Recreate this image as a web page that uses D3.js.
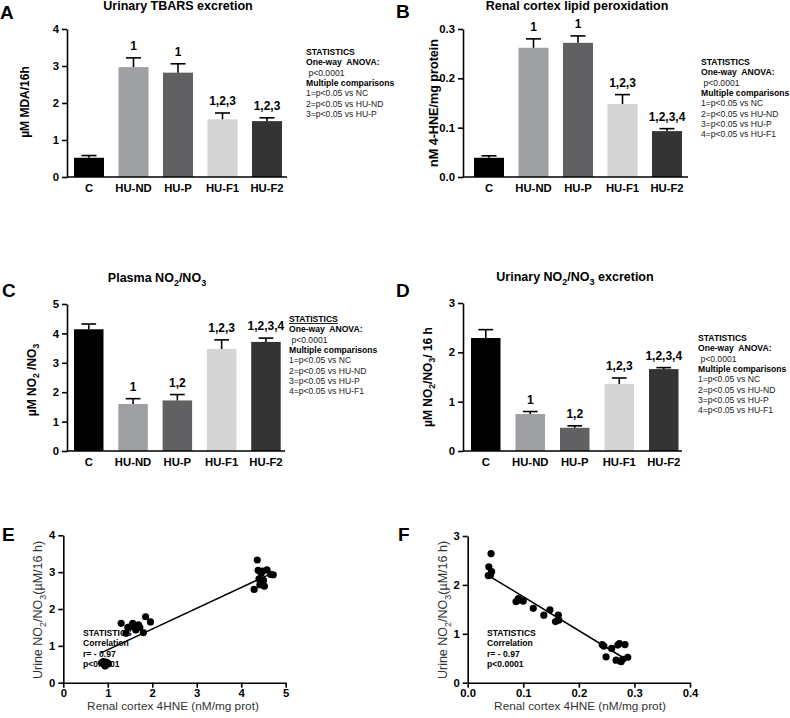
<!DOCTYPE html>
<html><head><meta charset="utf-8">
<script src="https://cdn.jsdelivr.net/npm/d3@7"></script>
<style>body{margin:0;background:#fff} svg{font-family:Arial,"Liberation Sans",Helvetica,sans-serif}</style>
</head><body><svg id="c" width="790" height="718"></svg>
<script>
// ---------- DATA ----------
const categories = ["C","HU-ND","HU-P","HU-F1","HU-F2"];
const barColors = ["#000000","#9fa0a4","#616163","#d5d5d5","#343434"];

const tbarsMean = [0.52,2.97,2.82,1.56,1.51];
const tbarsErr  = [0.58,3.22,3.06,1.73,1.60];
const tbarsSig  = ["","1","1","1,2,3","1,2,3"];
const tbarsTicks = [0,1,2,3,4];

const hneMean = [0.039,0.262,0.272,0.148,0.093];
const hneErr  = [0.043,0.280,0.286,0.167,0.098];
const hneSig  = ["","1","1","1,2,3","1,2,3,4"];
const hneTicks = [0,0.1,0.2,0.3];

const plasmaMean = [4.14,1.60,1.72,3.47,3.71];
const plasmaErr  = [4.32,1.78,1.92,3.78,3.84];
const plasmaSig  = ["","1","1,2","1,2,3","1,2,3,4"];
const plasmaTicks = [0,1,2,3,4,5];

const urineMean = [2.29,0.75,0.47,1.36,1.66];
const urineErr  = [2.46,0.80,0.51,1.48,1.69];
const urineSig  = ["","1","1,2","1,2,3","1,2,3,4"];
const urineTicks = [0,1,2,3];

const stats3 = [["STATISTICS",1],["One-way  ANOVA:",1],[" p<0.0001",0],["Multiple comparisons",1],
  ["1=p<0.05 vs NC",0],["2=p<0.05 vs HU-ND",0],["3=p<0.05 vs HU-P",0]];
const stats4 = stats3.concat([["4=p<0.05 vs HU-F1",0]]);
const corrStats = ["STATISTICS","Correlation","r= - 0.97","p<0.0001"];

// Scatter E: x = renal cortex 4HNE, y = urine NO2/NO3
const scatterEx = [4.36,4.38,4.48,4.58,4.66,4.72,4.40,4.50,4.42,4.52,4.29,4.45,
  1.30,1.41,1.45,1.56,1.63,1.69,1.72,1.85,1.80,1.96,1.52,1.61,
  0.86,0.91,0.96,1.01,0.94,0.99,0.90];
const scatterEy = [3.33,3.05,3.03,3.06,2.94,2.93,2.82,2.78,2.66,2.62,2.53,2.97,
  1.61,1.34,1.50,1.61,1.43,1.57,1.50,1.79,1.36,1.65,1.52,1.52,
  0.54,0.51,0.56,0.51,0.45,0.54,0.57];
const fitE = [[0.85,0.81],[4.6,2.92]];
const scatterETicksX = [0,1,2,3,4,5];
const scatterETicksY = [0,1,2,3,4];

// Scatter F
const scatterFx = [0.042,0.038,0.043,0.037,0.041,
  0.087,0.091,0.094,0.100,0.118,0.137,0.148,0.163,0.158,0.164,
  0.242,0.245,0.259,0.249,0.270,0.273,0.283,0.267,0.276,0.279,0.288];
const scatterFy = [2.64,2.37,2.27,2.19,2.20,
  1.66,1.72,1.69,1.67,1.52,1.38,1.49,1.38,1.25,1.28,
  0.78,0.75,0.70,0.53,0.77,0.80,0.78,0.46,0.43,0.48,0.52];
const fitF = [[0.039,2.18],[0.280,0.51]];
const scatterFTicksX = [0,0.1,0.2,0.3,0.4];
const scatterFTicksY = [0,1,2,3];

// ---------- DRAWING ----------
const svg = d3.select("#c");
const FONT = "Arial, 'Liberation Sans', Helvetica, sans-serif";

function rich(t, parts, size){
  let shifted = false;
  parts.forEach(p => {
    const isSub = typeof p !== "string";
    const ts = t.append("tspan").text(isSub ? p.sub : p);
    if (isSub) { ts.attr("font-size", size*0.72).attr("dy", size*0.28); shifted = true; }
    else if (shifted) { ts.attr("dy", -size*0.28); shifted = false; }
  });
  return t;
}

function text(x, y, str, size, weight, anchor, fill){
  return svg.append("text").attr("x",x).attr("y",y).attr("font-size",size)
    .attr("font-weight",weight||"normal").attr("text-anchor",anchor||"start")
    .attr("fill",fill||"#000").attr("font-family",FONT).text(str);
}

function styleAxis(a, size){
  a.select(".domain").attr("stroke","#000").attr("stroke-width",1.6);
  a.selectAll(".tick line").attr("stroke","#000").attr("stroke-width",1.6);
  a.selectAll(".tick text").attr("font-size",size).attr("font-weight","bold")
    .attr("font-family",FONT).attr("fill","#000");
}

function barPanel(cfg){
  const g = svg.append("g");
  const y = d3.scaleLinear().domain([0, cfg.yMax]).range([cfg.y0, cfg.y1]);
  const x = d3.scaleBand().domain(categories)
    .range([cfg.bar0, cfg.bar0 + 4*cfg.step + cfg.bw])
    .paddingInner(1 - cfg.bw/cfg.step).paddingOuter(0);
  const cx = i => x(categories[i]) + x.bandwidth()/2;
  g.selectAll("rect.bar").data(cfg.mean).join("rect").attr("class","bar")
    .attr("x",(d,i)=>x(categories[i])).attr("y",d=>y(d))
    .attr("width",x.bandwidth()).attr("height",d=>y(0)-y(d))
    .attr("fill",(d,i)=>barColors[i]);
  g.selectAll("line.err").data(cfg.err).join("line").attr("class","err")
    .attr("x1",(d,i)=>cx(i)).attr("x2",(d,i)=>cx(i))
    .attr("y1",(d,i)=>y(cfg.mean[i])).attr("y2",d=>y(d))
    .attr("stroke","#000").attr("stroke-width",1.6);
  g.selectAll("line.cap").data(cfg.err).join("line").attr("class","cap")
    .attr("x1",(d,i)=>cx(i)-x.bandwidth()/4).attr("x2",(d,i)=>cx(i)+x.bandwidth()/4)
    .attr("y1",d=>y(d)).attr("y2",d=>y(d))
    .attr("stroke","#000").attr("stroke-width",1.6);
  g.selectAll("text.sig").data(cfg.sig).join("text").attr("class","sig")
    .attr("x",(d,i)=>cx(i)).attr("y",(d,i)=>y(cfg.err[i]) - 8)
    .attr("text-anchor","middle").attr("font-size",12).attr("font-weight","bold")
    .attr("font-family",FONT).text(d=>d);
  const ya = g.append("g").attr("transform",`translate(${cfg.ax},0)`)
    .call(d3.axisLeft(y).tickValues(cfg.ticks).tickFormat(cfg.fmt).tickSize(5).tickSizeOuter(0).tickPadding(3));
  styleAxis(ya, 11.3);
  g.append("line").attr("x1",cfg.ax).attr("x2",cfg.axEnd).attr("y1",y(0)).attr("y2",y(0))
    .attr("stroke","#000").attr("stroke-width",1.6);
  const xa = g.append("g").attr("transform",`translate(0,${y(0)})`)
    .call(d3.axisBottom(x).tickSize(0).tickPadding(7));
  xa.select(".domain").remove();
  xa.selectAll(".tick text").attr("font-size",11.3).attr("font-weight","bold")
    .attr("font-family",FONT).attr("fill","#000");
  const tt = svg.append("text").attr("x",cfg.titleX).attr("y",cfg.titleY).attr("text-anchor","middle")
    .attr("font-size",12.5).attr("font-weight","bold").attr("font-family",FONT);
  rich(tt, cfg.title, 12.5);
  const yl = svg.append("text").attr("transform",`translate(${cfg.ylX},${cfg.ylY}) rotate(-90)`)
    .attr("text-anchor","middle").attr("font-size",cfg.ylSize).attr("font-weight","bold").attr("font-family",FONT);
  rich(yl, cfg.ylabel, cfg.ylSize);
  text(cfg.letterX, cfg.letterY, cfg.letter, 19, "bold");
  cfg.stats.forEach((s,i)=>{
    const t = text(cfg.stX, cfg.stY + i*10.35, s[0], 8.6, s[1] ? "bold" : "normal", "start", s[1] ? "#000" : "#222");
    t.style("white-space","pre");
    if (i===0 && cfg.underline) t.attr("text-decoration","underline");
  });
}

function fmt1(d){ return d3.format(".1f")(d); }

barPanel({mean:tbarsMean, err:tbarsErr, sig:tbarsSig, ticks:tbarsTicks, fmt:d3.format("d"),
  yMax:4, y0:177, y1:29, ax:67, axEnd:287, bar0:74, step:44.5, bw:30,
  title:["Urinary TBARS excretion"], titleX:178, titleY:10,
  ylabel:["\u00b5M MDA/16h"], ylX:29, ylY:102, ylSize:12,
  letter:"A", letterX:0, letterY:19, stats:stats3, stX:306, stY:55});

barPanel({mean:hneMean, err:hneErr, sig:hneSig, ticks:hneTicks, fmt:fmt1,
  yMax:0.3, y0:177, y1:29, ax:463, axEnd:688, bar0:474, step:44.5, bw:30,
  title:["Renal cortex lipid peroxidation"], titleX:577, titleY:10,
  ylabel:["nM 4-HNE/mg protein"], ylX:438, ylY:103, ylSize:12.6,
  letter:"B", letterX:396, letterY:18, stats:stats4, stX:701, stY:65});

barPanel({mean:plasmaMean, err:plasmaErr, sig:plasmaSig, ticks:plasmaTicks, fmt:d3.format("d"),
  yMax:5, y0:451, y1:304, ax:67, axEnd:285, bar0:74, step:44.3, bw:29.5,
  title:["Plasma NO",{sub:"2"},"/NO",{sub:"3"}], titleX:157, titleY:282,
  ylabel:["\u00b5M NO",{sub:"2"}," /NO",{sub:"3"}], ylX:36, ylY:380, ylSize:12,
  letter:"C", letterX:2, letterY:297, stats:stats4, stX:289, stY:322, underline:true});

barPanel({mean:urineMean, err:urineErr, sig:urineSig, ticks:urineTicks, fmt:d3.format("d"),
  yMax:3, y0:451, y1:303, ax:463, axEnd:682, bar0:471, step:44.5, bw:29.5,
  title:["Urinary NO",{sub:"2"},"/NO",{sub:"3"}," excretion"], titleX:575, titleY:281,
  ylabel:["\u00b5M NO",{sub:"2"},"/NO",{sub:"3"},"/ 16 h"], ylX:432, ylY:377, ylSize:12,
  letter:"D", letterX:396, letterY:297, stats:stats4, stX:698, stY:341});

function scatterPanel(cfg){
  const g = svg.append("g");
  const x = d3.scaleLinear().domain(cfg.xDom).range([cfg.ax, cfg.axEnd]);
  const y = d3.scaleLinear().domain(cfg.yDom).range([cfg.y0, cfg.y1]);
  cfg.stats.forEach((s,i)=> text(cfg.stX, cfg.stY + i*10.35, s, 8.6, "bold"));
  const ya = g.append("g").attr("transform",`translate(${cfg.ax},0)`)
    .call(d3.axisLeft(y).tickValues(cfg.yTicks).tickFormat(d3.format("d")).tickSize(5).tickSizeOuter(0).tickPadding(3));
  styleAxis(ya, 11.3);
  const xa = g.append("g").attr("transform",`translate(0,${cfg.y0})`)
    .call(d3.axisBottom(x).tickValues(cfg.xTicks).tickFormat(cfg.xFmt).tickSize(5).tickSizeOuter(0).tickPadding(1));
  styleAxis(xa, 11.3);
  g.append("line").attr("x1",x(cfg.fit[0][0])).attr("y1",y(cfg.fit[0][1]))
    .attr("x2",x(cfg.fit[1][0])).attr("y2",y(cfg.fit[1][1]))
    .attr("stroke","#000").attr("stroke-width",1.5);
  g.selectAll("circle").data(cfg.xs).join("circle")
    .attr("cx",d=>x(d)).attr("cy",(d,i)=>y(cfg.ys[i])).attr("r",3.6).attr("fill","#000");
  const yl = svg.append("text").attr("transform",`translate(${cfg.ylX},${cfg.ylY}) rotate(-90)`)
    .attr("text-anchor","middle").attr("font-size",12.5).attr("fill","#333").attr("font-family",FONT);
  rich(yl, ["Urine NO",{sub:"2"},"/NO",{sub:"3"},"(\u00b5M/16 h)"], 12.5);
  text(cfg.xlX, 710, "Renal cortex 4HNE (nM/mg prot)", 11.8, "normal", "middle", "#333");
  text(cfg.letterX, 541, cfg.letter, 19, "bold");
}

scatterPanel({xs:scatterEx, ys:scatterEy, fit:fitE, xDom:[0,5], yDom:[0,4],
  xTicks:scatterETicksX, yTicks:scatterETicksY, xFmt:d3.format("d"),
  ax:63.3, axEnd:285.7, y0:682.7, y1:535.3, stX:83, stY:636,
  stats:corrStats, ylX:42, ylY:610, xlX:173, letter:"E", letterX:2});

scatterPanel({xs:scatterFx, ys:scatterFy, fit:fitF, xDom:[0,0.4], yDom:[0,3],
  xTicks:scatterFTicksX, yTicks:scatterFTicksY, xFmt:fmt1,
  ax:467.7, axEnd:690, y0:682.7, y1:536, stX:487, stY:636,
  stats:corrStats, ylX:447, ylY:610, xlX:580, letter:"F", letterX:398});
</script></body></html>
